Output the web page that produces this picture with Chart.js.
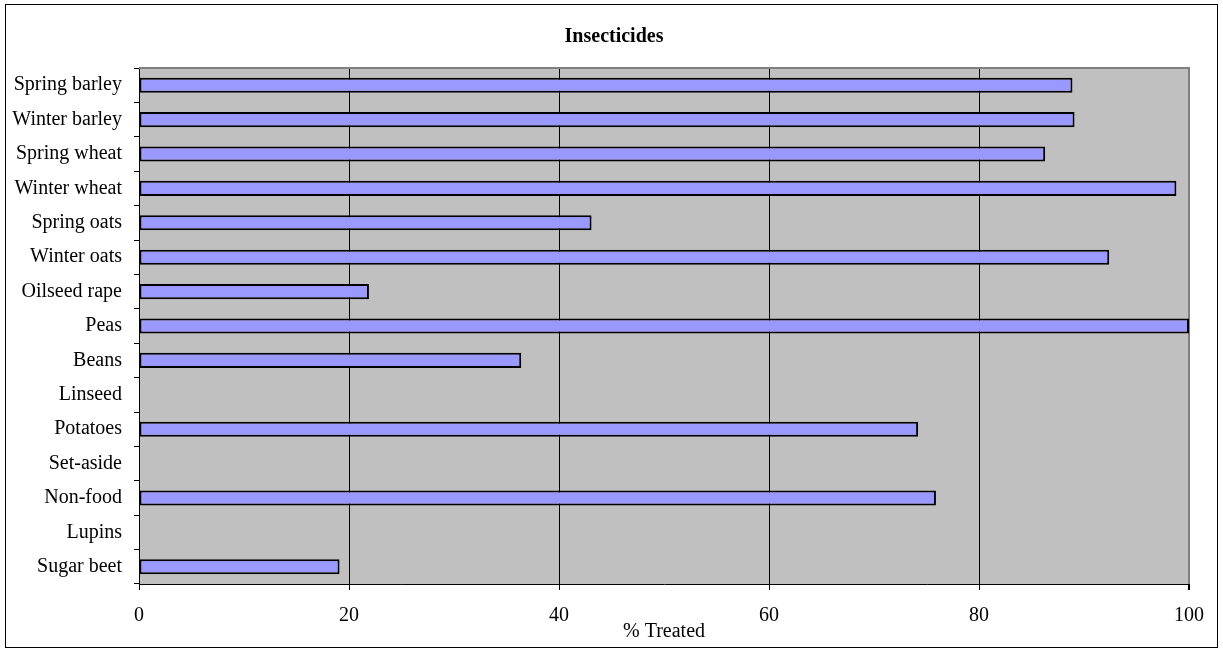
<!DOCTYPE html>
<html>
<head>
<meta charset="utf-8">
<script src="https://cdn.jsdelivr.net/npm/chart.js@4"></script>
<style>
  html, body { margin: 0; padding: 0; background: #fff; }
  #wrap { width: 1223px; height: 648px; }
</style>
</head>
<body>
<div id="wrap"><canvas id="chart" width="1223" height="648"></canvas></div>
<script>
// crops and % of area treated
var crops = ['Spring barley','Winter barley','Spring wheat','Winter wheat','Spring oats','Winter oats',
  'Oilseed rape','Peas','Beans','Linseed','Potatoes','Set-aside','Non-food','Lupins','Sugar beet'];
var treated = [88.9, 89.1, 86.3, 98.8, 43.1, 92.4, 21.9, 100, 36.4, 0, 74.2, 0, 75.9, 0, 19.1];
var xTicks = [0, 20, 40, 60, 80, 100];
var chartTitle = 'Insecticides';
var xTitle = '% Treated';

var serif = "'Liberation Serif', 'Times New Roman', serif";

// grey plot background, grey top edge, outer frame, titles
var plotBg = {
  id: 'plotBg',
  beforeDraw: function(chart) {
    var c = chart.ctx, a = chart.chartArea;
    c.save();
    c.fillStyle = '#ffffff';
    c.fillRect(0, 0, chart.width, chart.height);
    c.fillStyle = '#c0c0c0';
    c.fillRect(a.left, a.top, a.right - a.left, a.bottom - a.top);
    c.restore();
  },
  afterDraw: function(chart) {
    var c = chart.ctx, a = chart.chartArea;
    c.save();
    c.strokeStyle = '#808080';
    c.lineWidth = 2;
    c.beginPath();
    c.moveTo(a.left, a.top);
    c.lineTo(a.right + 1, a.top);
    c.stroke();
    c.strokeStyle = '#000';
    c.lineWidth = 1;
    c.strokeRect(5.5, 4.5, 1212, 643);

    c.fillStyle = '#000';
    c.textAlign = 'center';
    c.textBaseline = 'alphabetic';
    c.font = 'bold 20px ' + serif;
    c.fillText(chartTitle, 614, 42);
    c.font = '20px ' + serif;
    c.fillText(xTitle, (a.left + a.right) / 2, 637);
    c.restore();
  }
};

var ctx = document.getElementById('chart').getContext('2d');
var chart = new Chart(ctx, {
  type: 'bar',
  data: {
    labels: crops,
    datasets: [{
      label: xTitle,
      data: treated,
      backgroundColor: '#9999ff',
      borderColor: '#000',
      borderWidth: 2,
      borderSkipped: false,
      barPercentage: 0.44,
      categoryPercentage: 1
    }]
  },
  options: {
    indexAxis: 'y',
    responsive: false,
    animation: false,
    layout: { padding: { left: 10, right: 34, top: 68, bottom: 6 } },
    plugins: {
      legend: { display: false },
      tooltip: { enabled: false },
      title: { display: false }
    },
    scales: {
      x: {
        min: 0,
        max: 100,
        afterBuildTicks: function(s) { s.ticks = xTicks.map(function(v) { return { value: v }; }); },
        border: { color: '#000', width: 1 },
        grid: {
          color: function(c) { return c.tick && c.tick.value === 100 ? '#808080' : '#000'; },
          lineWidth: function(c) { return c.tick && c.tick.value === 100 ? 2 : 1; },
          tickColor: '#000',
          tickLength: 6
        },
        ticks: {
          color: '#000',
          font: { family: serif, size: 20 },
          padding: 14,
          maxRotation: 0
        }
      },
      y: {
        afterFit: function(s) { s.width = 129; },
        border: { color: '#000', width: 1 },
        grid: {
          drawOnChartArea: false,
          offset: true,
          tickColor: '#000',
          tickLength: 5
        },
        ticks: {
          color: '#000',
          font: { family: serif, size: 20 },
          padding: 12
        }
      }
    }
  },
  plugins: [plotBg]
});
</script>
</body>
</html>
